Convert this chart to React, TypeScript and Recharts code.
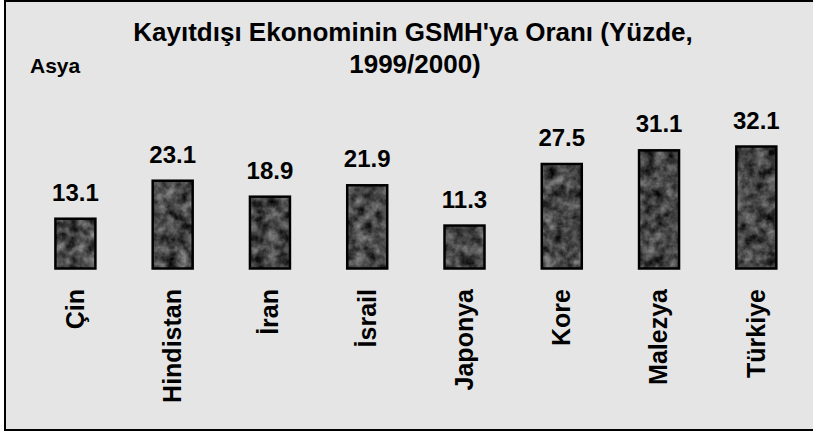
import React from 'react';
import { BarChart, Bar, XAxis, YAxis, LabelList } from 'recharts';

const countries = ['Çin', 'Hindistan', 'İran', 'İsrail', 'Japonya', 'Kore', 'Malezya', 'Türkiye'];
const shares = [13.1, 23.1, 18.9, 21.9, 11.3, 27.5, 31.1, 32.1];
const titleLines = ["Kayıtdışı Ekonominin GSMH'ya Oranı (Yüzde,", '1999/2000)'];
const regionLabel = 'Asya';

const data = countries.map((c, i) => ({ name: c, value: shares[i] }));

const FONT = '"Liberation Sans", Arial, sans-serif';

const GraniteBar = (props: any) => {
  const { x, y, width, height, index } = props;
  const id = `granite-${index}`;
  return (
    <g>
      <defs>
        <filter
          id={id}
          x="0"
          y="0"
          width="1"
          height="1"
          filterUnits="objectBoundingBox"
          colorInterpolationFilters="sRGB"
        >
          <feTurbulence type="fractalNoise" baseFrequency="0.09" numOctaves={4} seed={index * 7 + 3} result="n" />
          <feColorMatrix
            in="n"
            type="matrix"
            values="0.75 0 0 0 -0.1  0.75 0 0 0 -0.1  0.75 0 0 0 -0.1  0 0 0 0 1"
            result="g"
          />
          <feComposite in="g" in2="SourceGraphic" operator="in" />
        </filter>
      </defs>
      <rect x={x} y={y} width={width} height={height} fill="#000" filter={`url(#${id})`} />
      <rect x={x} y={y} width={width} height={height} fill="none" stroke="#000" strokeWidth={2.5} />
    </g>
  );
};

const CategoryTick = (props: any) => {
  const { x, payload } = props;
  return (
    <text
      transform={`translate(${x},289) rotate(-90)`}
      textAnchor="end"
      dy="0.35em"
      fontFamily={FONT}
      fontWeight="bold"
      fontSize={25}
      fill="#000"
    >
      {payload.value}
    </text>
  );
};

const ValueLabel = (props: any) => {
  const { x, y, width, value } = props;
  return (
    <text
      x={x + width / 2}
      y={y - 18}
      textAnchor="middle"
      fontFamily={FONT}
      fontWeight="bold"
      fontSize={24}
      fill="#000"
    >
      {value}
    </text>
  );
};

export default function App() {
  return (
    <div style={{ position: 'absolute', left: 0, top: 0, width: 813, height: 433, background: '#fff', overflow: 'hidden' }}>
      <div
        style={{
          position: 'absolute',
          left: 4,
          top: 0,
          width: 813,
          height: 431,
          boxSizing: 'border-box',
          background: '#e5e5e5',
          borderLeft: '2px solid #000',
          borderTop: '2px solid #000',
          borderBottom: '2px solid #000',
        }}
      />
      <div style={{ position: 'absolute', left: 0, top: 0 }}>
        <BarChart
          width={813}
          height={433}
          data={data}
          margin={{ top: 135.5, right: 8.4, bottom: 64.5, left: 26.4 }}
          barCategoryGap={0}
        >
          <XAxis
            dataKey="name"
            axisLine={false}
            tickLine={false}
            interval={0}
            height={100}
            tick={<CategoryTick />}
          />
          <YAxis hide domain={[0, 35]} />
          <Bar dataKey="value" barSize={40} isAnimationActive={false} shape={<GraniteBar />}>
            <LabelList dataKey="value" content={<ValueLabel />} />
          </Bar>
        </BarChart>
      </div>
      <svg width={813} height={433} style={{ position: 'absolute', left: 0, top: 0, pointerEvents: 'none' }}>
        <text x={413} y={41} textAnchor="middle" fontFamily={FONT} fontWeight="bold" fontSize={26} fill="#000">
          {titleLines[0]}
        </text>
        <text x={415} y={73} textAnchor="middle" fontFamily={FONT} fontWeight="bold" fontSize={26} fill="#000">
          {titleLines[1]}
        </text>
        <text x={30} y={73} fontFamily={FONT} fontWeight="bold" fontSize={21} fill="#000">
          {regionLabel}
        </text>
      </svg>
    </div>
  );
}
